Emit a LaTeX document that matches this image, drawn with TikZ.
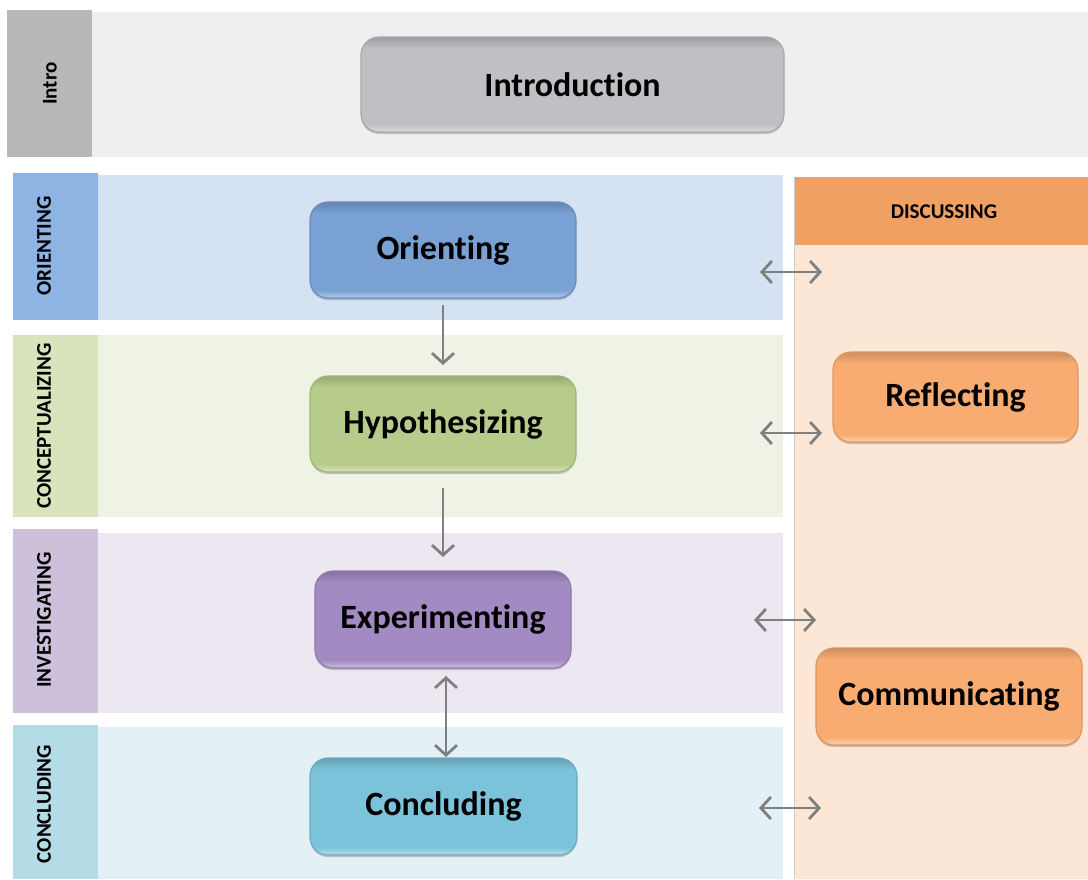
\documentclass[tikz,border=0pt]{standalone}
\usepackage{fontspec}
\setmainfont{Carlito}[Ligatures=NoCommon]
\usetikzlibrary{arrows.meta,shadows}
\definecolor{introlab}{HTML}{B8B8B8}
\definecolor{introband}{HTML}{EFEFEF}
\definecolor{introbox}{HTML}{C0BFC4}
\definecolor{orilab}{HTML}{8EB4E3}
\definecolor{oriband}{HTML}{D5E2F3}
\definecolor{oribox}{HTML}{79A1D4}
\definecolor{conlab}{HTML}{D8E4BC}
\definecolor{conband}{HTML}{EFF3E6}
\definecolor{conbox}{HTML}{B7CC8B}
\definecolor{invlab}{HTML}{CCC0DA}
\definecolor{invband}{HTML}{EDE7F1}
\definecolor{invbox}{HTML}{A28BC2}
\definecolor{cclab}{HTML}{B4DCE6}
\definecolor{ccband}{HTML}{E3F0F5}
\definecolor{ccbox}{HTML}{7BC3DA}
\definecolor{disband}{HTML}{FCE6D6}
\definecolor{dishead}{HTML}{EFA062}
\definecolor{disbox}{HTML}{F9AC72}
\definecolor{arrowgray}{HTML}{808080}
\colorlet{bevelbase}{gray}
\pgfdeclareverticalshading[bevelbase]{bevel}{100bp}{%
  color(0bp)=(bevelbase!55!white); color(25bp)=(bevelbase!55!white);
  color(29bp)=(bevelbase); color(69bp)=(bevelbase);
  color(75bp)=(bevelbase!82!black); color(100bp)=(bevelbase!82!black)}
\tikzset{
  lablbl/.style={font=\bfseries\fontsize{21}{21}\selectfont,rotate=90,anchor=center},
  stagebox/.style={rounded corners=18pt,inner sep=0pt,line width=1.2pt,
    font=\bfseries\fontsize{34}{34}\selectfont,
    /utils/exec={\colorlet{bevelbase}{#1}},shading=bevel,draw=#1!88!black,
    drop shadow={shadow xshift=0pt,shadow yshift=-2pt,opacity=0.2,fill=black}},
  conn/.style={draw=arrowgray,line width=2.8pt,
    -{Straight Barb[length=10pt,width=22pt]}},
  dconn/.style={draw=arrowgray,line width=2.8pt,
    {Straight Barb[length=10pt,width=22pt]}-{Straight Barb[length=10pt,width=22pt]}},
}
\begin{document}
\begin{tikzpicture}[x=1pt,y=-1pt]
\useasboundingbox (0,0) rectangle (1088,879);
\fill[white] (0,0) rectangle (1088,879);
% Intro band
\fill[introband] (92,12) rectangle (1088,157);
\fill[introlab] (7,10) rectangle (92,157);
\node[lablbl] (lintro) at (50,83.5) {Intro};
% Orienting band
\fill[oriband] (98,175) rectangle (783,320);
\fill[orilab] (13,173) rectangle (98,320);
\node[lablbl] (lori) at (44,246) {ORIENTING};
% Conceptualizing band
\fill[conband] (98,335) rectangle (783,517);
\fill[conlab] (13,335) rectangle (98,517);
\node[lablbl] (lcon) at (44,426) {CONCEPTUALIZING};
% Investigating band
\fill[invband] (98,533) rectangle (783,713);
\fill[invlab] (13,529) rectangle (98,713);
\node[lablbl] (linv) at (44,620) {INVESTIGATING};
% Concluding band
\fill[ccband] (98,727) rectangle (783,879);
\fill[cclab] (13,725) rectangle (98,879);
\node[lablbl] (lcc) at (44,804) {CONCLUDING};
% Discussing column
\fill[disband] (794,177) rectangle (1088,879);
\draw[black!20,line width=1pt] (794.5,177) -- (794.5,879);
\fill[dishead] (795,177) rectangle (1088,245);
\node[font=\bfseries\fontsize{21}{21}\selectfont] (ldis) at (944,212) {DISCUSSING};
% Stage boxes
\node[stagebox=introbox,minimum width=423pt,minimum height=95pt] (intro) at (572.5,84.5) {Introduction};
\node[stagebox=oribox,minimum width=266pt,minimum height=96pt] (ori) at (443,250) {Orienting};
\node[stagebox=conbox,minimum width=266pt,minimum height=96pt] (hyp) at (443,424) {Hypothesizing};
\node[stagebox=invbox,minimum width=256pt,minimum height=97pt] (exp) at (443,619.5) {Experimenting};
\node[stagebox=ccbox,minimum width=267pt,minimum height=97pt] (conc) at (443.5,806.5) {Concluding};
\node[stagebox=disbox,minimum width=245pt,minimum height=90pt] (refl) at (955.5,397) {Reflecting};
\node[stagebox=disbox,minimum width=266pt,minimum height=97pt] (comm) at (949,696.5) {Communicating};
% Vertical connectors
\coordinate (a1s) at (443,305);
\coordinate (a1e) at (443,365);
\coordinate (a2s) at (443,488);
\coordinate (a2e) at (443,557);
\coordinate (a3s) at (446,676);
\coordinate (a3e) at (446,757);
\draw[conn] (a1s) -- (a1e);
\draw[conn] (a2s) -- (a2e);
\draw[dconn] (a3s) -- (a3e);
% Horizontal connectors
\coordinate (h1s) at (760,272);
\coordinate (h1e) at (822,272);
\coordinate (h2s) at (760,433);
\coordinate (h2e) at (822,433);
\coordinate (h3s) at (754,620);
\coordinate (h3e) at (816,620);
\coordinate (h4s) at (759,808);
\coordinate (h4e) at (821,808);
\draw[dconn] (h1s) -- (h1e);
\draw[dconn] (h2s) -- (h2e);
\draw[dconn] (h3s) -- (h3e);
\draw[dconn] (h4s) -- (h4e);
\end{tikzpicture}
\end{document}
